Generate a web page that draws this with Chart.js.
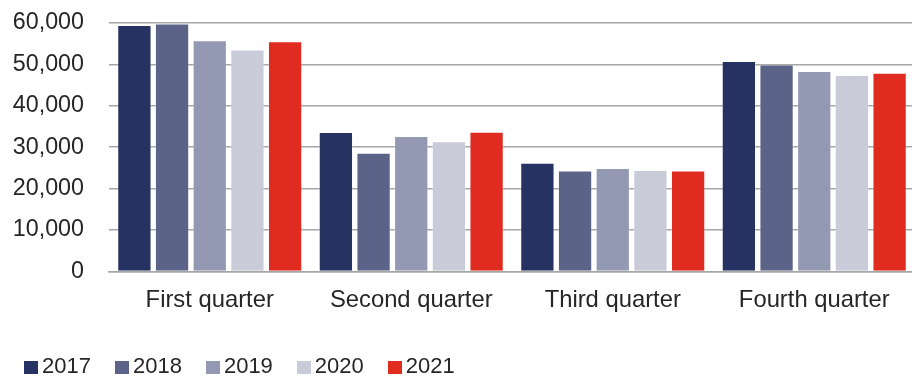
<!DOCTYPE html>
<html>
<head>
<meta charset="utf-8">
<script src="https://cdn.jsdelivr.net/npm/chart.js@4/dist/chart.umd.min.js"></script>
<style>
  html, body { margin: 0; padding: 0; background: #fff; }
  #wrap { position: relative; width: 912px; height: 376px; overflow: hidden; }
  #c { position: absolute; left: 0; top: -16px; }
  #legend { position: absolute; left: 24px; top: 355px; display: flex; gap: 24px;
            font-family: "Liberation Sans", Arial, sans-serif; font-size: 22px; line-height: 22px; color: #262626; }
  .item { display: flex; align-items: flex-start; }
  .sw { width: 14px; height: 13px; margin-top: 6px; margin-right: 4px; }
</style>
</head>
<body>
<div id="wrap">
  <canvas id="c" width="918" height="376"></canvas>
  <div id="legend"></div>
</div>
<script>
const categories = ["First quarter", "Second quarter", "Third quarter", "Fourth quarter"];
const years = ["2017", "2018", "2019", "2020", "2021"];
const v2017 = [59500, 33700, 26250, 50800];
const v2018 = [59900, 28650, 24400, 50000];
const v2019 = [55850, 32700, 24950, 48400];
const v2020 = [53600, 31450, 24500, 47450];
const v2021 = [55600, 33750, 24350, 48000];
const colors = ["#253262", "#5b6488", "#9499b3", "#c9cbd8", "#e02b20"];
const seriesValues = [v2017, v2018, v2019, v2020, v2021];

const datasets = years.map((y, i) => ({
  label: y,
  data: seriesValues[i],
  backgroundColor: colors[i],
  borderColor: "rgba(255,255,255,0.25)",
  borderWidth: 1,
  categoryPercentage: 0.935,
  barPercentage: 0.91
}));

const font = "'Liberation Sans', Arial, sans-serif";

new Chart(document.getElementById("c"), {
  type: "bar",
  data: { labels: categories, datasets },
  options: {
    responsive: false,
    animation: false,
    layout: { padding: { left: 0, right: 3, top: 8, bottom: 30 } },
    plugins: { legend: { display: false }, tooltip: { enabled: false } },
    scales: {
      x: {
        grid: { display: false, drawTicks: false },
        border: { display: true, color: "#a6a6a6", width: 1.5 },
        ticks: { font: { family: font, size: 23.8 }, color: "#262626", padding: 15, maxRotation: 0 }
      },
      y: {
        min: 0, max: 60000,
        afterFit: s => { s.width = 109; },
        grid: { color: "#a6a6a6", lineWidth: 1.5, drawTicks: false },
        border: { display: false },
        ticks: {
          stepSize: 10000,
          font: { family: font, size: 23.3 }, color: "#262626", padding: 25,
          callback: v => v.toLocaleString("en-US")
        }
      }
    }
  }
});

const lg = document.getElementById("legend");
years.forEach((y, i) => {
  const it = document.createElement("div"); it.className = "item";
  const sw = document.createElement("div"); sw.className = "sw"; sw.style.background = colors[i];
  const t = document.createElement("span"); t.textContent = y;
  it.appendChild(sw); it.appendChild(t); lg.appendChild(it);
});
</script>
</body>
</html>
